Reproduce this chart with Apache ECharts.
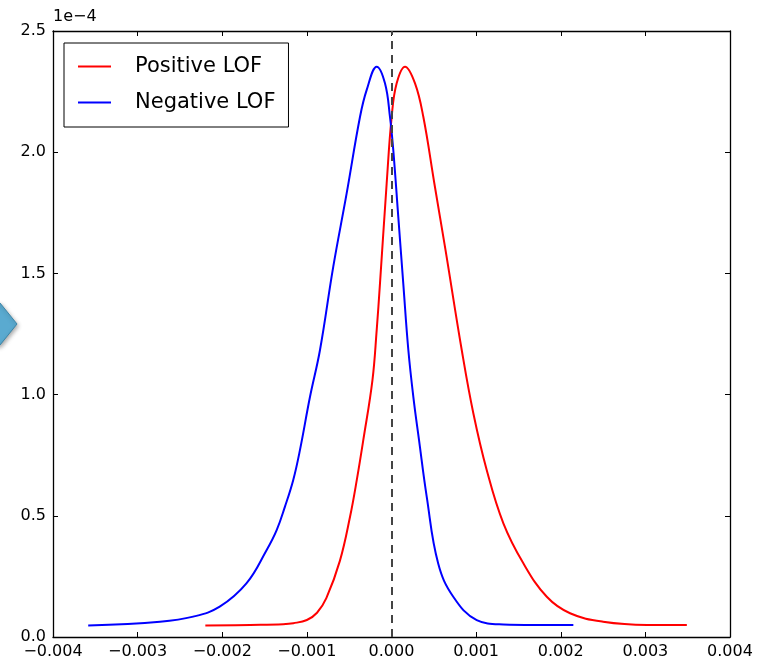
<!DOCTYPE html>
<html>
<head>
<meta charset="utf-8">
<script src="https://cdn.jsdelivr.net/npm/echarts@6/dist/echarts.min.js"></script>
<style>
html,body{margin:0;padding:0;background:#fff;}
#chart{width:769px;height:662px;}
</style>
</head>
<body>
<div id="chart"></div>
<script>
// Data (y values in units of 1e-4)
const seriesNames = ['Positive LOF', 'Negative LOF'];
const posX = [-0.0022, -0.00167, -0.00128, -0.00116, -0.0010, -0.00088, -0.00077, -0.00061, -0.00049, -0.00041, -0.000333, -0.000225, -0.000175, -0.000136, -0.000057, 0.000002, 0.000061, 0.00016, 0.000278, 0.000376, 0.000506, 0.000638, 0.00083, 0.000967, 0.001125, 0.001322, 0.001558, 0.001835, 0.00211, 0.0025, 0.00302, 0.00349];
const posY = [0.047, 0.050, 0.053, 0.057, 0.070, 0.100, 0.160, 0.314, 0.496, 0.648, 0.813, 1.06, 1.266, 1.459, 1.872, 2.146, 2.284, 2.353, 2.284, 2.146, 1.872, 1.597, 1.184, 0.923, 0.689, 0.469, 0.304, 0.166, 0.098, 0.063, 0.050, 0.050];
const negX = [-0.003584, -0.002736, -0.002343, -0.00203, -0.001712, -0.001475, -0.001357, -0.001259, -0.001161, -0.001082, -0.000963, -0.000845, -0.000688, -0.00053, -0.000372, -0.000293, -0.000175, -0.000077, -0.000018, 0.000021, 0.00008, 0.000139, 0.000199, 0.000258, 0.000325, 0.000416, 0.000551, 0.00073, 0.001007, 0.001322, 0.001676, 0.002149];
const negY = [0.047, 0.063, 0.084, 0.125, 0.222, 0.359, 0.441, 0.538, 0.648, 0.771, 0.991, 1.184, 1.528, 1.830, 2.146, 2.257, 2.353, 2.284, 2.146, 2.009, 1.734, 1.459, 1.184, 0.991, 0.813, 0.579, 0.304, 0.166, 0.070, 0.052, 0.050, 0.050];
const xTicks = [-0.004, -0.003, -0.002, -0.001, 0.000, 0.001, 0.002, 0.003, 0.004];
const yTicks = [0.0, 0.5, 1.0, 1.5, 2.0, 2.5];
const yScaleText = '1e\u22124';
const refLineX = 0;

const FONT = 'DejaVu Sans';
const zip = (xs, ys) => xs.map((x, i) => [x, ys[i]]);
const fmtX = v => v.toFixed(3).replace('-', '\u2212');

const chart = echarts.init(document.getElementById('chart'), null, {renderer: 'canvas'});

const axisLineStyle = {show: true, onZero: false, lineStyle: {color: '#000', width: 1.3}};
const tickStyle = {show: true, inside: true, length: 5, lineStyle: {color: '#000', width: 1}};

chart.setOption({
  animation: false,
  backgroundColor: '#fff',
  textStyle: {fontFamily: FONT},
  grid: {left: 53, right: 39, top: 31, bottom: 25, containLabel: false},
  legend: {
    orient: 'vertical',
    left: 64, top: 43,
    data: seriesNames.map(n => ({name: n, icon: 'rect'})),
    itemWidth: 33, itemHeight: 2,
    itemGap: 15,
    padding: [13, 13, 14, 14],
    borderColor: '#000', borderWidth: 1,
    backgroundColor: '#fff',
    textStyle: {fontFamily: FONT, fontSize: 21, color: '#000', padding: [0, 0, 0, 19]}
  },
  xAxis: [{
    type: 'value', min: xTicks[0], max: xTicks[xTicks.length - 1], interval: 0.001,
    position: 'bottom',
    axisLine: axisLineStyle, axisTick: tickStyle, splitLine: {show: false},
    axisLabel: {formatter: fmtX, fontFamily: FONT, fontSize: 16, color: '#000', margin: 7}
  }, {
    type: 'value', min: xTicks[0], max: xTicks[xTicks.length - 1], interval: 0.001,
    position: 'top',
    axisLine: axisLineStyle, axisTick: tickStyle, splitLine: {show: false},
    axisLabel: {show: false}
  }],
  yAxis: [{
    type: 'value', min: yTicks[0], max: yTicks[yTicks.length - 1], interval: 0.5,
    position: 'left',
    axisLine: axisLineStyle, axisTick: tickStyle, splitLine: {show: false},
    axisLabel: {formatter: v => v.toFixed(1), fontFamily: FONT, fontSize: 16, color: '#000', margin: 7}
  }, {
    type: 'value', min: yTicks[0], max: yTicks[yTicks.length - 1], interval: 0.5,
    position: 'right',
    axisLine: axisLineStyle, axisTick: tickStyle, splitLine: {show: false},
    axisLabel: {show: false}
  }],
  series: [{
    name: seriesNames[0], type: 'line', data: zip(posX, posY),
    smooth: 0.4, showSymbol: false, symbol: 'none',
    lineStyle: {color: '#ff0000', width: 2}, itemStyle: {color: '#ff0000'},
    z: 3
  }, {
    name: seriesNames[1], type: 'line', data: zip(negX, negY),
    smooth: 0.4, showSymbol: false, symbol: 'none',
    lineStyle: {color: '#0000ff', width: 2}, itemStyle: {color: '#0000ff'},
    z: 3,
    markLine: {
      silent: true, symbol: ['none', 'none'], label: {show: false},
      lineStyle: {color: '#444', type: [8, 6], width: 2},
      data: [{xAxis: refLineX}]
    }
  }],
  graphic: [{
    type: 'text', left: 53, top: 9,
    style: {text: yScaleText, font: '16px "DejaVu Sans"', fill: '#000'}
  }, {
    type: 'polygon',
    shape: {points: [[-10, 303], [0, 303], [17, 324], [0, 345], [-10, 345]]},
    style: {fill: '#5aaad0', stroke: '#3b86a8', lineWidth: 1, shadowBlur: 4, shadowColor: 'rgba(0,0,0,0.35)', shadowOffsetX: 1, shadowOffsetY: 2}
  }]
});
</script>
</body>
</html>
